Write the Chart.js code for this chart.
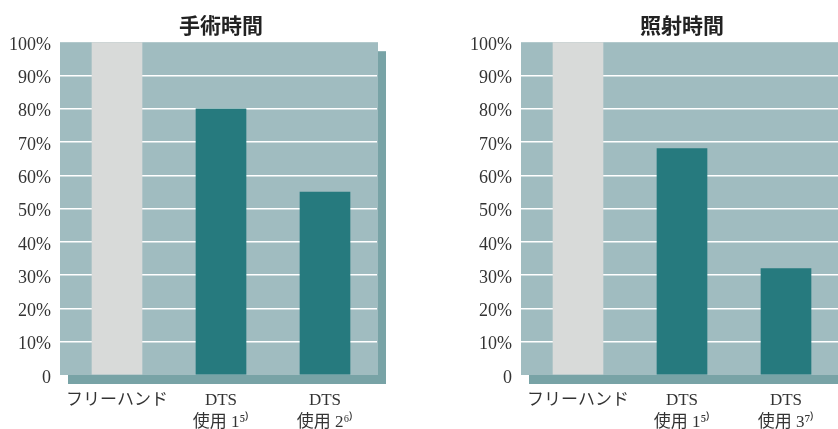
<!DOCTYPE html>
<html lang="ja">
<head>
<meta charset="utf-8">
<script src="https://cdn.jsdelivr.net/npm/chart.js@4"></script>
<style>
    html, body { margin: 0; padding: 0; background: #fff; overflow: hidden; }
    #wrap { position: relative; width: 838px; height: 429px; overflow: hidden; }
    canvas { position: absolute; top: 0; }
    #chart-left { left: 0; }
    #chart-right { left: 461px; }
</style>
</head>
<body>
<div id="wrap">
    <canvas id="chart-left" width="440" height="429"></canvas>
    <canvas id="chart-right" width="440" height="429"></canvas>
</div>
<script>
// ═══ データ ═══
const leftTitle = '手術時間';
const rightTitle = '照射時間';
const leftCategories = ['フリーハンド', ['DTS', '使用 1⁵⁾'], ['DTS', '使用 2⁶⁾']];
const rightCategories = ['フリーハンド', ['DTS', '使用 1⁵⁾'], ['DTS', '使用 3⁷⁾']];
const leftValues = [100, 80, 55];
const rightValues = [100, 68, 32];
const barColors = ['#d8dad9', '#267a7e', '#267a7e'];
const yTickValues = [0, 10, 20, 30, 40, 50, 60, 70, 80, 90, 100];

const SERIF = "'Liberation Serif', 'Noto Sans CJK JP', serif";

// 背景パネル + 影
const panelBg = {
    id: 'panelBg',
    beforeDraw(chart) {
        const { ctx, chartArea: a } = chart;
        const x = a.left - 5, y = a.top;
        const w = a.right + 1 - x, h = a.bottom - a.top;
        ctx.save();
        ctx.fillStyle = '#78a3a6';
        ctx.fillRect(x + 8, y + 9, w, h);
        ctx.fillStyle = '#a0bcc0';
        ctx.fillRect(x, y, w, h);
        ctx.restore();
    }
};

function gridColor(ctx) {
    const v = ctx.tick ? ctx.tick.value : null;
    return (v === 0 || v === 100) ? 'rgba(0,0,0,0)' : '#ffffff';
}

function makeChart(id, title, labels, values) {
    return new Chart(document.getElementById(id), {
        type: 'bar',
        data: {
            labels,
            datasets: [{ data: values, backgroundColor: barColors, barThickness: 50 }]
        },
        options: {
            responsive: false,
            animation: false,
            layout: { padding: { left: 0, right: 63, top: 0, bottom: 0 } },
            plugins: {
                legend: { display: false },
                tooltip: { enabled: false },
                title: {
                    display: true, text: title, fullSize: false, color: '#222',
                    font: { family: "'Noto Sans CJK JP', sans-serif", size: 21, weight: 'bold', lineHeight: 1.2 },
                    padding: { top: 12, bottom: 5 }
                }
            },
            scales: {
                x: {
                    grid: { display: false, drawTicks: false },
                    border: { display: false },
                    ticks: { color: '#333', padding: 14, maxRotation: 0, autoSkip: false,
                        font: { family: SERIF, size: 17, lineHeight: 1.3 } },
                    afterFit(scale) { scale.height = 54; }
                },
                y: {
                    min: 0, max: 100,
                    afterBuildTicks(scale) { scale.ticks = yTickValues.map(v => ({ value: v })); },
                    grid: { color: gridColor, tickColor: gridColor, lineWidth: 1.5, tickLength: 5 },
                    border: { display: false },
                    ticks: {
                        color: '#333', padding: 9, labelOffset: 3,
                        font: { family: SERIF, size: 18 },
                        callback: v => v === 0 ? '0' : v + '%'
                    },
                    afterFit(scale) { scale.width = 65; }
                }
            }
        },
        plugins: [panelBg]
    });
}

makeChart('chart-left', leftTitle, leftCategories, leftValues);
makeChart('chart-right', rightTitle, rightCategories, rightValues);
</script>
</body>
</html>
